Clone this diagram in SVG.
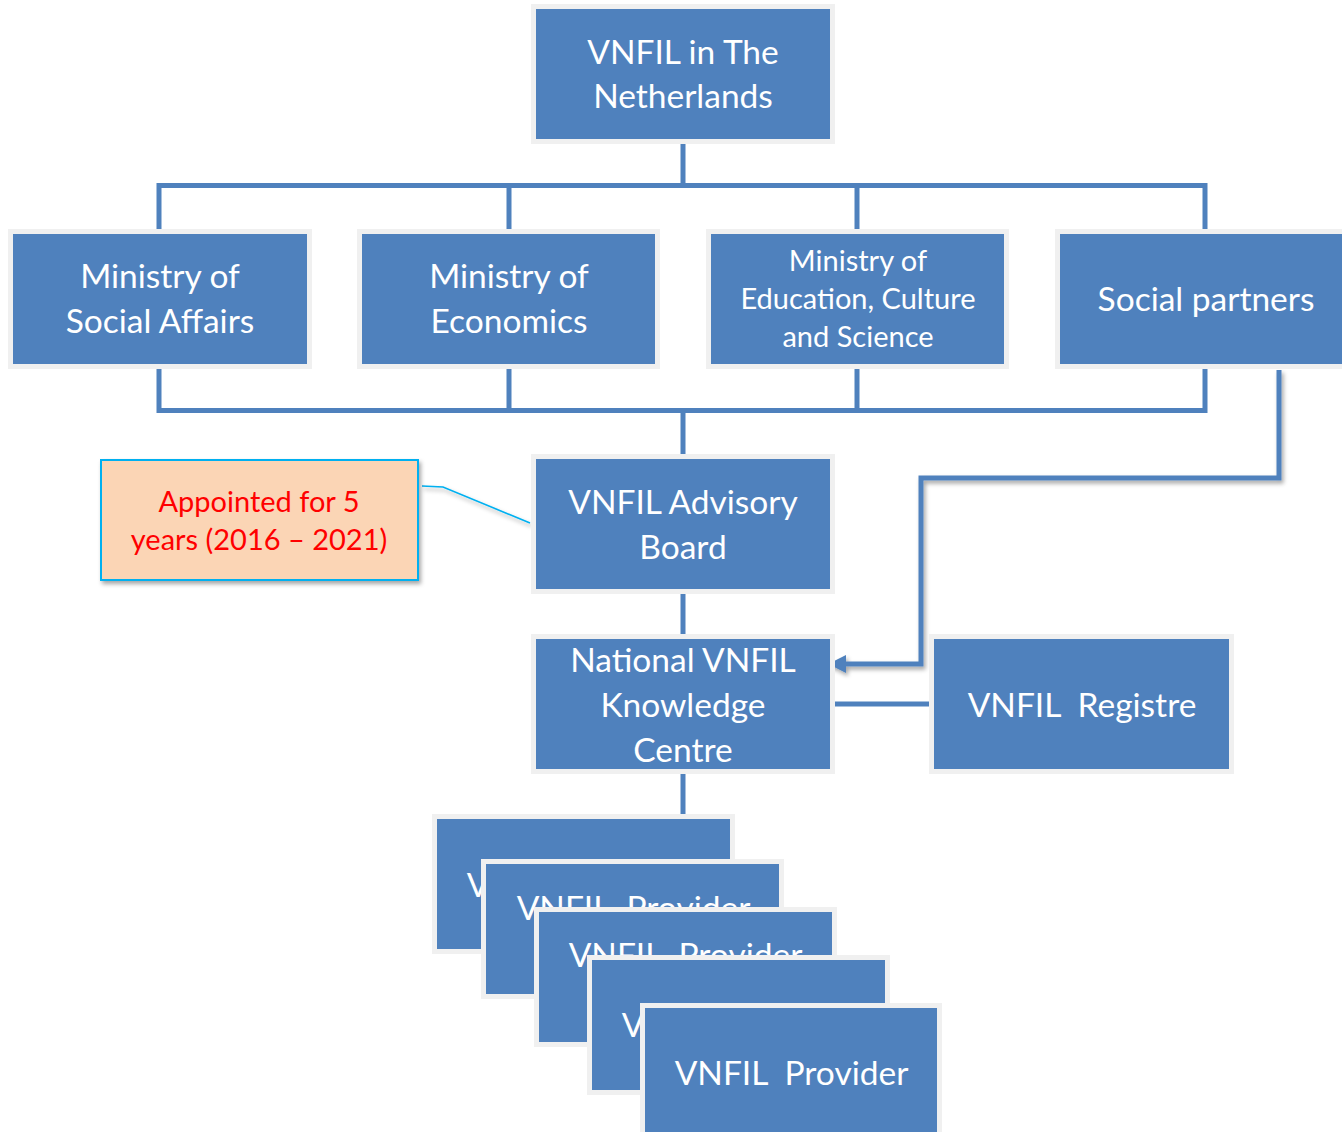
<svg xmlns="http://www.w3.org/2000/svg" width="1342" height="1132" viewBox="0 0 1342 1132">
<defs>
<style>
.box{fill:#4F81BD;stroke:#F0F0F0;stroke-width:5}
.t{font-family:Lato,"Liberation Sans",sans-serif;fill:#FFFFFF;text-anchor:middle;white-space:pre}
.t32{font-size:33.5px}
.t27{font-size:29px}
.ln{stroke:#4F81BD;stroke-width:5;fill:none}
.call{font-family:Lato,"Liberation Sans",sans-serif;fill:#FF0000;font-size:29px;text-anchor:middle}
</style>
<filter id="sh" x="-10%" y="-10%" width="130%" height="130%">
<feDropShadow dx="2" dy="3" stdDeviation="2" flood-color="#000000" flood-opacity="0.35"/>
</filter>
<marker id="ah" viewBox="0 0 10 10" refX="9" refY="5" markerWidth="3.6" markerHeight="3.6" orient="auto" markerUnits="strokeWidth">
<path d="M0,0 L10,5 L0,10 z" fill="#4F81BD"/>
</marker>
</defs>
<rect width="1342" height="1132" fill="#FFFFFF"/>
<g id="connectors">
<path class="ln" d="M683,141 V185.5 M159,185.5 H1207 M159,183 V233 M509,183 V233 M857,183 V233 M1205,183 V233"/>
<path class="ln" d="M159,365 V410.5 M509,365 V410.5 M857,365 V410.5 M1205,365 V410.5 M156.5,410.5 H1207.5 M683,408 V458"/>
<path class="ln" d="M683,589 V637"/>
<path class="ln" d="M683,769 V817"/>
<path class="ln" d="M833,704 H932"/>
<path class="ln" filter="url(#sh)" d="M1279,370 V478 H921 V664 H830" marker-end="url(#ah)"/>
<path d="M422,486 L443,487 L530,523" stroke="#00B0F0" stroke-width="1.6" fill="none" filter="url(#sh)"/>
</g>
<g id="n-top"><rect class="box" x="533.5" y="6.5" width="299" height="135"/>
<text class="t t32" x="683" y="64">VNFIL in The</text><text class="t t32" x="683" y="108">Netherlands</text></g>
<g id="n-social-affairs"><rect class="box" x="10.5" y="231.5" width="299" height="135"/>
<text class="t t32" x="160" y="288">Ministry of</text><text class="t t32" x="160" y="333">Social Affairs</text></g>
<g id="n-economics"><rect class="box" x="359.5" y="231.5" width="298" height="135"/>
<text class="t t32" x="509" y="288">Ministry of</text><text class="t t32" x="509" y="333">Economics</text></g>
<g id="n-education"><rect class="box" x="708.5" y="231.5" width="298" height="135"/>
<text class="t t27" x="858" y="271">Ministry of</text><text class="t t27" x="858" y="309">Education, Culture</text><text class="t t27" x="858" y="347">and Science</text></g>
<g id="n-social-partners"><rect class="box" x="1057.5" y="231.5" width="300" height="135"/>
<text class="t t32" x="1206" y="311">Social partners</text></g>
<g id="n-callout"><rect x="101" y="460" width="317" height="120" fill="#FBD5B5" stroke="#00B0F0" stroke-width="2" filter="url(#sh)"/>
<text class="call" x="259" y="512">Appointed for 5</text><text class="call" x="259" y="550">years (2016 – 2021)</text></g>
<g id="n-advisory"><rect class="box" x="533.5" y="456.5" width="299" height="135"/>
<text class="t t32" x="683" y="514">VNFIL Advisory</text><text class="t t32" x="683" y="559">Board</text></g>
<g id="n-knowledge"><rect class="box" x="533.5" y="636.5" width="299" height="135"/>
<text class="t t32" x="683" y="672">National VNFIL</text><text class="t t32" x="683" y="717">Knowledge</text><text class="t t32" x="683" y="762">Centre</text></g>
<g id="n-registre"><rect class="box" x="931.5" y="636.5" width="300" height="135"/>
<text class="t t32" x="1082" y="717">VNFIL  Registre</text></g>
<g id="n-provider1"><rect class="box" x="434.5" y="816.5" width="298" height="135"/>
<text class="t t32" x="583.5" y="897">VNFIL  Provider</text></g>
<g id="n-provider2"><rect class="box" x="483.5" y="861.5" width="298" height="135"/>
<text class="t t32" x="633.5" y="920">VNFIL  Provider</text></g>
<g id="n-provider3"><rect class="box" x="536.5" y="909.5" width="298" height="135"/>
<text class="t t32" x="685.5" y="967">VNFIL  Provider</text></g>
<g id="n-provider4"><rect class="box" x="589.5" y="957.5" width="298" height="135"/>
<text class="t t32" x="738.5" y="1037">VNFIL  Provider</text></g>
<g id="n-provider5"><rect class="box" x="642.5" y="1005.5" width="297" height="135"/>
<text class="t t32" x="791.5" y="1085">VNFIL  Provider</text></g>
</svg>
